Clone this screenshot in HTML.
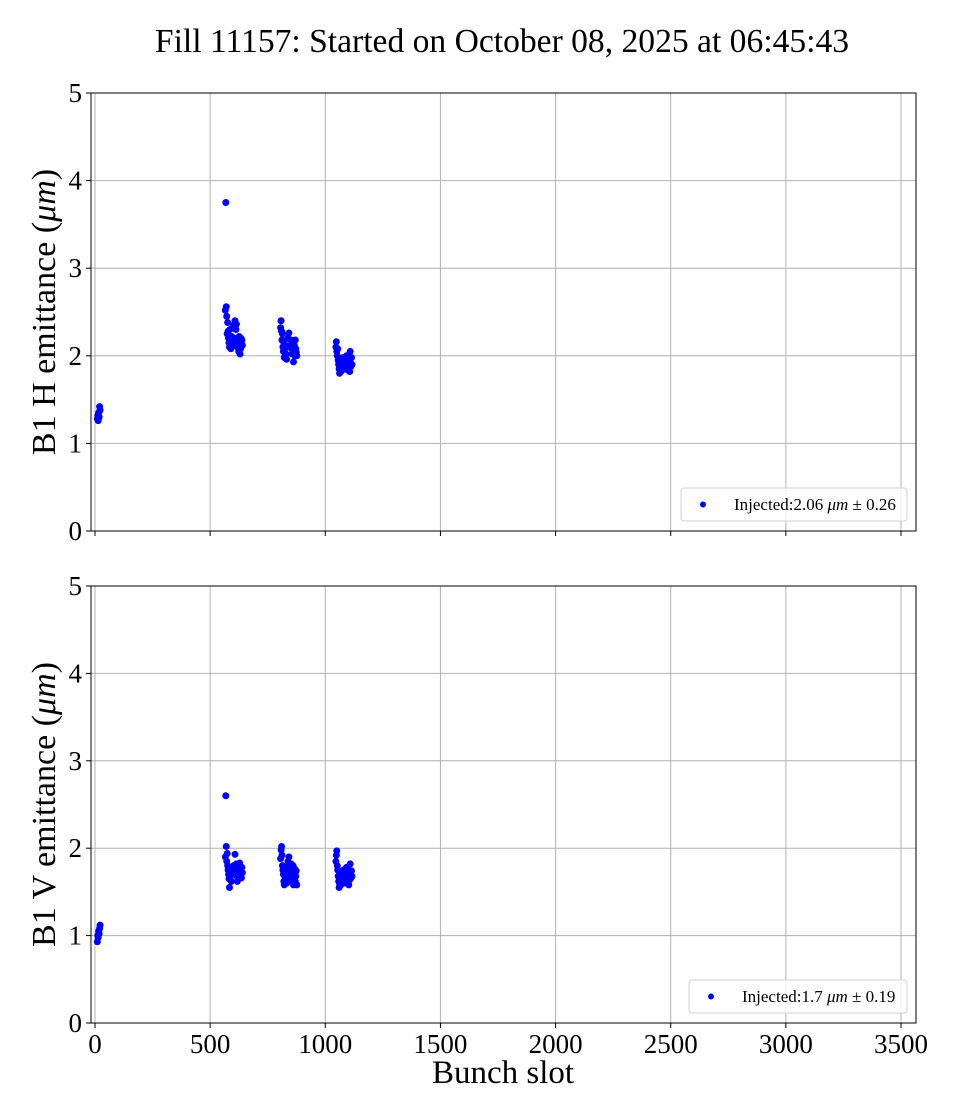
<!DOCTYPE html>
<html><head><meta charset="utf-8"><style>
html,body{margin:0;padding:0;background:#fff;}
svg{display:block;font-family:"Liberation Serif",serif;}
</style></head><body>
<svg id="chart" width="960" height="1120" viewBox="0 0 960 1120" xmlns="http://www.w3.org/2000/svg">
<text x="502" y="52" text-anchor="middle" font-size="33.6">Fill 11157: Started on October 08, 2025 at 06:45:43</text>
<text x="503" y="1083" text-anchor="middle" font-size="33">Bunch slot</text>
</svg>
<script>
const xTicks = [0, 500, 1000, 1500, 2000, 2500, 3000, 3500];
const yTicks = [0, 1, 2, 3, 4, 5];
const slots = [10,12,14,16,18,20,22,
 566,568,570,572,574,576,578,580,582,584,586,588,590,592,594,598,602,608,612,614,616,618,620,622,624,626,628,630,632,634,636,638,640,
 806,808,810,812,814,816,818,820,822,824,826,828,830,832,834,838,842,848,852,854,856,858,860,862,864,866,868,870,872,874,876,
 1046,1048,1050,1052,1054,1056,1058,1060,1062,1064,1066,1068,1070,1072,1074,1078,1082,1088,1092,1094,1096,1098,1100,1102,1104,1106,1108,1110,1112,1114,1116];
const hVals = [1.28,1.32,1.26,1.35,1.30,1.42,1.38,
 2.52,3.75,2.56,2.45,2.25,2.38,2.28,2.20,2.15,2.10,2.30,2.18,2.08,2.12,2.22,2.15,2.35,2.40,2.30,2.36,2.20,2.10,2.12,2.16,2.05,2.22,2.18,2.02,2.08,2.20,2.14,2.18,2.12,
 2.32,2.40,2.28,2.18,2.25,2.10,2.05,2.15,1.98,2.08,2.00,2.12,2.02,1.96,2.10,2.20,2.26,2.12,2.18,2.08,2.02,2.15,2.10,1.93,2.05,2.12,2.00,2.18,2.08,2.04,2.00,
 2.10,2.16,2.05,2.00,2.08,1.95,1.90,1.85,1.80,1.88,1.92,1.82,1.86,1.95,1.90,1.98,1.85,1.92,2.00,1.88,1.84,1.96,1.90,1.86,1.94,1.82,2.05,1.92,1.88,1.98,1.90];
const vVals = [0.93,1.00,0.98,1.05,1.02,1.08,1.12,
 1.90,2.60,2.02,1.85,1.94,1.80,1.75,1.70,1.65,1.55,1.72,1.68,1.78,1.62,1.74,1.70,1.80,1.93,1.75,1.82,1.68,1.62,1.70,1.78,1.65,1.72,1.83,1.68,1.74,1.70,1.66,1.78,1.72,
 1.88,1.98,2.02,1.92,1.80,1.75,1.70,1.62,1.58,1.68,1.65,1.78,1.72,1.60,1.66,1.85,1.90,1.75,1.82,1.68,1.62,1.72,1.80,1.58,1.65,1.70,1.76,1.62,1.68,1.74,1.58,
 1.85,1.92,1.97,1.80,1.75,1.68,1.62,1.55,1.60,1.70,1.65,1.58,1.72,1.62,1.68,1.75,1.60,1.70,1.78,1.65,1.62,1.72,1.68,1.58,1.75,1.64,1.82,1.70,1.66,1.74,1.68];
const panels = [
 {name:'h', top:93, bottom:531, vals:hVals, label:'B1 H emittance (', legend:'2.06', sd:'0.26', lx:681, lw:226},
 {name:'v', top:586, bottom:1023, vals:vVals, label:'B1 V emittance (', legend:'1.7', sd:'0.19', lx:689, lw:218}
];
const L = 91, R = 916;
const svg = document.getElementById('chart');
const NS = 'http://www.w3.org/2000/svg';
function xs(v){ return 95 + v * (901 - 95) / 3500; }
function mk(tag, attrs, parent){ const e = document.createElementNS(NS, tag); for (const k in attrs) e.setAttribute(k, attrs[k]); (parent||svg).appendChild(e); return e; }
panels.forEach((p, pi) => {
  const ys = v => p.bottom - v * (p.bottom - p.top) / 5;
  const g = mk('g', {});
  
  
  xTicks.forEach(t => {
    const l = mk('line', {x1:xs(t), x2:xs(t), y1:p.top, y2:p.bottom, stroke:'#b0b0b0', 'stroke-width':1}, g);
    
    
    const tk = mk('line', {x1:xs(t), x2:xs(t), y1:p.bottom, y2:p.bottom+5, stroke:'#000', 'stroke-width':1}, g);
    
    
    if (pi === 1) {
      const tx = mk('text', {x:xs(t), y:p.bottom+30, 'text-anchor':'middle', 'font-size':27}, g);
      tx.textContent = t;
      
      
    }
  });
  yTicks.forEach(t => {
    const l = mk('line', {x1:L, x2:R, y1:ys(t), y2:ys(t), stroke:'#b0b0b0', 'stroke-width':1}, g);
    
    
    const tk = mk('line', {x1:L-5, x2:L, y1:ys(t), y2:ys(t), stroke:'#000', 'stroke-width':1}, g);
    
    
    const tx = mk('text', {x:L-9, y:ys(t)+9, 'text-anchor':'end', 'font-size':27}, g);
    tx.textContent = t;
    
    
  });
  slots.forEach((s, i) => {
    const c = mk('circle', {cx:xs(s), cy:ys(p.vals[i]), r:3.5, fill:'#0000ff'}, g);
    
    
  });
  const fr = mk('rect', {x:L, y:p.top, width:R-L, height:p.bottom-p.top, fill:'none', stroke:'#000', 'stroke-width':1}, g);
  
  
  const cy = (p.top + p.bottom) / 2;
  const yl = mk('text', {x:0, y:0, 'text-anchor':'middle', 'font-size':34, transform:'translate(55,'+cy+') rotate(-90)'}, g);
  yl.innerHTML = p.label + '<tspan font-style="italic">μm</tspan>)';
  
  
  const lg = mk('g', {}, g);
  
  
  mk('rect', {x:p.lx, y:p.bottom-43, width:p.lw, height:33, rx:3, fill:'#fff', 'fill-opacity':0.8, stroke:'#d0d0d0', 'stroke-width':1}, lg);
  const dot = mk('circle', {cx:p.lx+22, cy:p.bottom-26.5, r:3, fill:'#0000ff'}, lg);
  
  
  const lt = mk('text', {x:p.lx+53, y:p.bottom-21, 'font-size':17}, lg);
  lt.innerHTML = 'Injected:' + p.legend + ' <tspan font-style="italic">μm</tspan> ± ' + p.sd;
  
  
});
</script>
</body></html>
